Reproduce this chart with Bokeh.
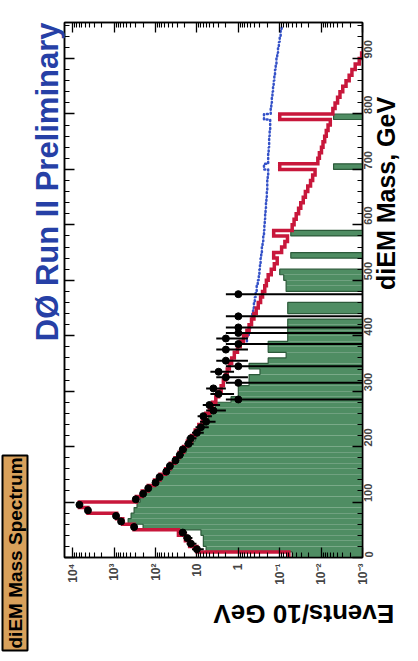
import math
from bokeh.plotting import figure
from bokeh.models import (Range1d, LinearAxis, LogAxis, FixedTicker,
                          SingleIntervalTicker, ColumnDataSource,
                          CustomJSTickFormatter, Title)
from bokeh.embed import file_html
from bokeh.resources import INLINE

# ---------------- data ----------------
BIN_W = 10
bin_lo = [0, 10, 20, 30, 40, 50, 60, 70, 80, 90,
          100, 110, 120, 130, 140, 150, 160, 170, 180, 190,
          200, 210, 220, 230, 240, 250, 260, 270, 280, 290,
          300, 310, 320, 330, 340, 350, 360, 370, 380, 390,
          400, 410, 420, 430, 440, 450, 460, 470, 480, 490,
          500, 510, 520, 530, 540, 550, 560, 570, 580, 590,
          600, 610, 620, 630, 640, 650, 660, 670, 680, 690,
          700, 710, 720, 730, 740, 750, 760, 770, 780, 790,
          800, 810, 820, 830, 840, 850, 860, 870, 880, 890,
          900, 910, 920, 930, 940, 950]

# total background (red histogram), events / 10 GeV
bkg = [0.06, 10, 15, 19, 28, 330, 620, 870, 4300, 6900,
       290, 210, 150, 106, 78, 57, 44, 34, 27, 21,
       17, 13.5, 11, 9, 7.4, 6.1, 5.0, 4.2, 3.5, 3.0,
       2.6, 2.3, 2.05, 1.85, 1.65, 1.45, 1.25, 1.05, 0.9, 0.75,
       0.62, 0.55, 0.48, 0.42, 0.37, 0.33, 0.29, 0.26, 0.23, 0.21,
       0.19, 0.16, 0.135, 0.115, 0.14, 0.09, 0.075, 0.065, 0.14, 0.05,
       0.045, 0.04, 0.035, 0.031, 0.027, 0.024, 0.021, 0.018, 0.016, 0.014,
       0.1, 0.012, 0.011, 0.0098, 0.009, 0.0082, 0.0075, 0.0068, 0.006, 0.1,
       0.0052, 0.0046, 0.004, 0.0035, 0.003, 0.0025, 0.0021, 0.0018, 0.0015, 0.0012,
       0.00105, 0.00095, 0.0009, 0.00085, 0.0008, 0.00075]

# green filled histogram (None = empty bin)
green = [0.05, 6, 7, 7, 8, 200, 460, 390, 330, 280,
         235, 190, 150, 115, 80, 55, 40, 30, 23, 18,
         14, 11, 9, 7.5, 6.2, 5.2, 4.4, 3.6, 1.5, 1.0,
         1.0, 0.55, 0.55, 0.3, 0.55, 0.19, 0.07, 0.19, 0.19, 0.064,
         0.064, 0.064, 0.064, None, 0.064, 0.064, None, None, 0.07, 0.07,
         0.08, 0.1, None, None, 0.054, None, None, None, 0.054, None,
         None, None, None, None, None, None, None, None, None, None,
         0.005, None, None, None, None, None, None, None, None, 0.005,
         None, None, None, None, None, None, None, None, None, None,
         None, None, None, None, None, None]

# data (events per bin), None = no entry
data = [None, 10, 14, 17, 22, 330, 680, 900, 4300, 6900,
        300, 200, 150, 100, 80, 55, 45, 33, 26, 22,
        16, 14, 10, 8, 6, 7, 4, 5, 1, 3,
        4, 1, 2, 3, 1, 2, None, 2, 1, 2,
        1, 1, None, 1, None, None, None, 1, None, None] + [None] * 46

# background + signal (blue dotted), starting at 390 GeV
sig_lo = [390, 400, 410, 420, 430, 440, 450, 460, 470, 480,
          490, 500, 510, 520, 530, 540, 550, 560, 570, 580,
          590, 600, 610, 620, 630, 640, 650, 660, 670, 680,
          690, 700, 710, 720, 730, 740, 750, 760, 770, 780,
          790, 800, 810, 820, 830, 840, 850, 860, 870, 880,
          890, 900, 910, 920, 930, 940, 950]
sig = [0.62, 0.56, 0.52, 0.49, 0.46, 0.44, 0.42, 0.40, 0.38, 0.36,
       0.34, 0.32, 0.31, 0.30, 0.29, 0.28, 0.27, 0.26, 0.25, 0.24,
       0.235, 0.23, 0.225, 0.22, 0.215, 0.21, 0.205, 0.2, 0.2, 0.195,
       0.19, 0.24, 0.19, 0.19, 0.185, 0.18, 0.18, 0.175, 0.17, 0.17,
       0.24, 0.165, 0.16, 0.155, 0.15, 0.145, 0.14, 0.135, 0.13, 0.125,
       0.12, 0.115, 0.11, 0.105, 0.1, 0.095, 0.09]

decades = [1e4, 1e3, 1e2, 1e1, 1e0, 1e-1, 1e-2, 1e-3]
decade_labels = ["10\u2074", "10\u00b3", "10\u00b2", "10", "1",
                 "10\u207b\u00b9", "10\u207b\u00b2", "10\u207b\u00b3"]

X_HI, X_LO = 10 ** 4.2, 1e-3
M_MAX = 965

# ---------------- helpers building paths from the arrays ----------------
def step_path(lows, vals, base):
    xs, ys = [], []
    open_run = False
    last_hi = None
    for lo, v in zip(lows, vals):
        if v is None:
            if open_run:
                xs += [base, float("nan")]
                ys += [last_hi, float("nan")]
            open_run = False
            continue
        if not open_run:
            xs.append(base)
            ys.append(lo)
            open_run = True
        xs += [v, v]
        ys += [lo, lo + BIN_W]
        last_hi = lo + BIN_W
    if open_run:
        xs.append(base)
        ys.append(last_hi)
    return xs, ys


def line_path(lows, vals):
    xs, ys = [], []
    for lo, v in zip(lows, vals):
        xs += [v, v]
        ys += [lo, lo + BIN_W]
    return xs, ys


def try_set(obj, name, val):
    if name in obj.properties():
        try:
            setattr(obj, name, val)
        except Exception:
            pass


FONT = "Liberation Sans"

p = figure(width=418, height=661, x_axis_type="log",
           x_range=Range1d(X_HI, X_LO), y_range=Range1d(0, M_MAX),
           y_axis_location="right", output_backend="svg",
           toolbar_location=None,
           min_border_left=63, min_border_right=56,
           min_border_top=22, min_border_bottom=104)
p.xgrid.visible = False
p.ygrid.visible = False
p.outline_line_color = "black"
p.outline_line_width = 1.5
p.background_fill_color = "white"
p.border_fill_color = "white"

# green filled histogram
g_src = ColumnDataSource(dict(
    y=[lo + BIN_W / 2 for lo, v in zip(bin_lo, green) if v is not None],
    left=[v for v in green if v is not None]))
p.hbar(y="y", height=BIN_W, left="left", right=X_LO * 0.5, source=g_src,
       fill_color="#4f8d63", line_color=None)
gx, gy = step_path(bin_lo, green, X_LO * 0.5)
p.line(gx, gy, line_color="#2c5a3a", line_width=1.2)

# signal + background, blue dotted
sx, sy = line_path(sig_lo, sig)
p.line(sx, sy, line_color="#3552c8", line_width=2.5, line_dash="1 3",
       line_cap="round")

# total background, red
rx, ry = line_path(bin_lo, bkg)
p.line(rx, ry, line_color="#c8173b", line_width=3.5, line_join="miter")

# data points with error bars
d_n = [n for n in data if n is not None]
d_y = [lo + BIN_W / 2 for lo, n in zip(bin_lo, data) if n is not None]
d_lo = [max(n - math.sqrt(n), 1e-6) for n in d_n]
d_hi = [n + math.sqrt(n) for n in d_n]
p.segment(x0=d_lo, x1=d_hi, y0=d_y, y1=d_y, line_color="black", line_width=2)
p.scatter(x=d_n, y=d_y, size=7, fill_color="black", line_color="black")

# ---------------- axes ----------------
minors = [k * d for d in [1e3, 1e2, 1e1, 1e0, 1e-1, 1e-2, 1e-3] for k in range(2, 10)]
log_ticker = FixedTicker(ticks=decades, minor_ticks=minors)
mass_ticker = SingleIntervalTicker(interval=100, num_minor_ticks=5)

log_fmt = CustomJSTickFormatter(args=dict(dec_vals=decades, dec_labels=decade_labels), code="""
    for (let i = 0; i < dec_vals.length; i++) {
        if (Math.abs(Math.log10(dec_vals[i]) - Math.log10(tick)) < 1e-6) { return dec_labels[i]; }
    }
    return "";
""")
blank_fmt = CustomJSTickFormatter(code='return "";')

# bottom axis: Events/10 GeV (upside down, as in the rotated original)
xa = p.xaxis[0]
xa.ticker = log_ticker
xa.formatter = log_fmt
xa.major_label_orientation = math.pi / 2
xa.major_label_text_font = FONT
xa.major_label_text_font_style = "bold"
xa.major_label_text_font_size = "12px"
xa.major_label_standoff = 6
xa.axis_label = "Events/10 GeV"
xa.axis_label_text_font = FONT
xa.axis_label_text_font_style = "bold"
xa.axis_label_text_font_size = "26px"
xa.axis_label_text_color = "black"
xa.axis_label_standoff = 26
try_set(xa, "axis_label_orientation", math.pi)

# right axis: diEM Mass, GeV (reading upwards)
ya = p.yaxis[0]
ya.ticker = mass_ticker
ya.major_label_orientation = math.pi / 2
ya.major_label_text_font = FONT
ya.major_label_text_font_style = "bold"
ya.major_label_text_font_size = "11px"
ya.major_label_standoff = 6
ya.axis_label = "diEM Mass, GeV"
ya.axis_label_text_font = FONT
ya.axis_label_text_font_style = "bold"
ya.axis_label_text_font_size = "25px"
ya.axis_label_text_color = "black"
ya.axis_label_standoff = 6
try_set(ya, "axis_label_orientation", math.pi / 2)

top_ax = LogAxis(ticker=log_ticker, formatter=blank_fmt,
                 major_label_text_font_size="1px", major_label_standoff=0)
p.add_layout(top_ax, "above")

left_ax = LinearAxis(ticker=mass_ticker, formatter=blank_fmt,
                     major_label_text_font_size="1px", major_label_standoff=0)
p.add_layout(left_ax, "left")

for ax in (xa, ya, top_ax, left_ax):
    ax.axis_line_color = "black"
    ax.axis_line_width = 1.5
    ax.major_tick_in = 10
    ax.major_tick_out = 0
    ax.minor_tick_in = 5
    ax.minor_tick_out = 0
    ax.major_tick_line_width = 1.3
    ax.minor_tick_line_width = 1.1

# experiment title, reading upwards along the left side, ending at the top
p.add_layout(Title(text="D\u00d8 Run II Preliminary", align="right", offset=0,
                   text_font=FONT, text_font_style="bold",
                   text_font_size="31px", text_color="#2640a6",
                   standoff=0), "left")

# orange "diEM Mass Spectrum" box, outermost on the left
box = Title(text="diEM Mass Spectrum", align="left", offset=-93,
            text_font=FONT, text_font_style="bold", text_font_size="19px",
            text_color="black", background_fill_color="#d9a15b",
            border_line_color="black", border_line_width=2, standoff=0)
try_set(box, "padding", 2)
p.add_layout(box, "left")

open("out.html", "w").write(file_html(p, INLINE))
